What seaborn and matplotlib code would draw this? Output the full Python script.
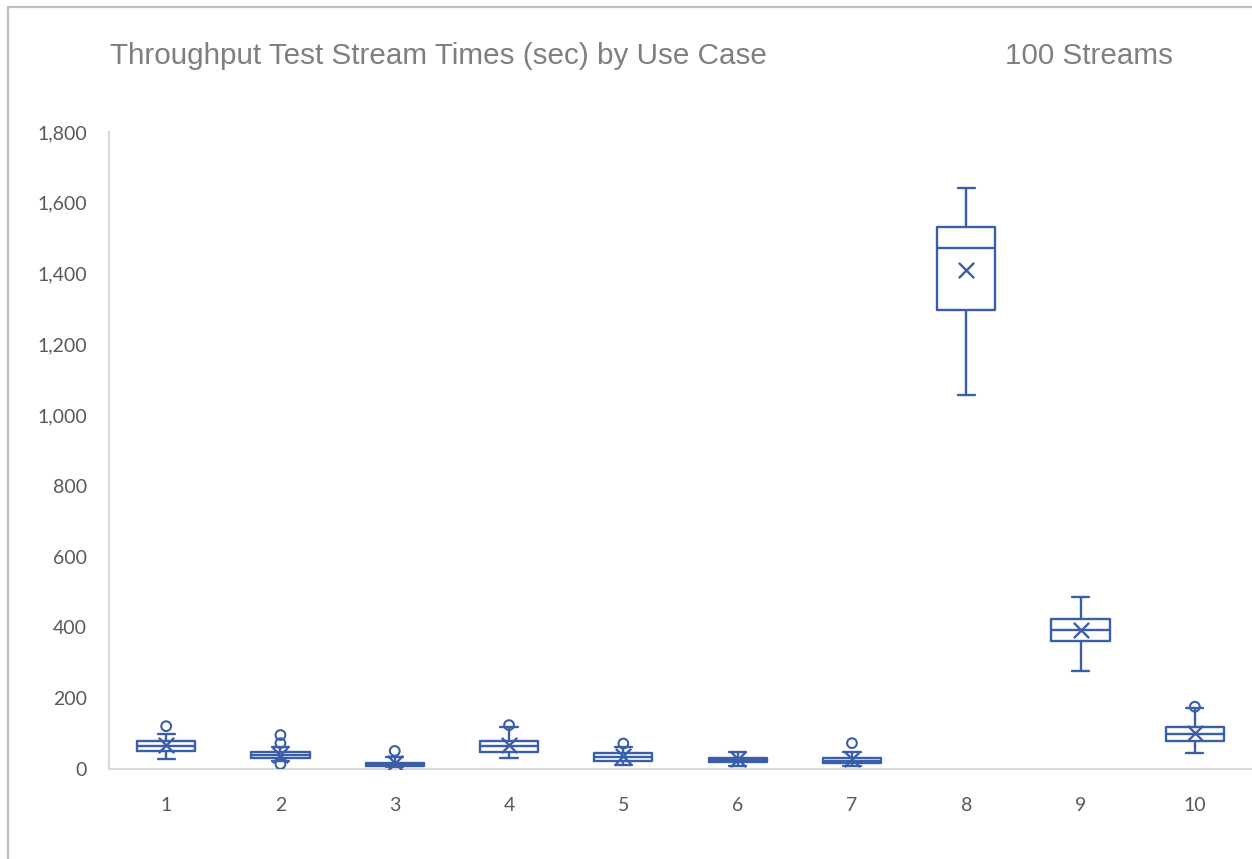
import numpy as np
import pandas as pd
import matplotlib
matplotlib.use("Agg")
import matplotlib.pyplot as plt
from matplotlib.patches import Rectangle
import seaborn as sns

# ---- data ----
categories = ["1", "2", "3", "4", "5", "6", "7", "8", "9", "10"]
whisker_low = [28, 23, 2, 31, 11, 8, 8, 1056, 276, 45]
q1 = [51, 31, 8, 48, 23, 20, 17, 1296, 363, 79]
median = [65, 39, 12, 65, 34, 26, 24, 1473, 392, 99]
q3 = [79, 48, 18, 79, 45, 31, 31, 1532, 423, 118]
whisker_high = [99, 62, 34, 118, 62, 48, 48, 1642, 487, 172]
means = [68, 40, 16, 68, 36, 27, 27, 1411, 392, 101]
outlier_cats = ["1", "2", "2", "2", "3", "4", "5", "7", "10"]
outlier_vals = [121, 96, 73, 14, 51, 124, 72, 73, 176]
y_ticks = [0, 200, 400, 600, 800, 1000, 1200, 1400, 1600, 1800]

title = "Throughput Test Stream Times (sec) by Use Case"
subtitle = "100 Streams"

# five-number summaries -> long table for seaborn
rows = []
for c, a, b, m, d, e in zip(categories, whisker_low, q1, median, q3, whisker_high):
    for v in (a, b, m, d, e):
        rows.append({"case": c, "sec": v})
df = pd.DataFrame(rows)
df_mean = pd.DataFrame({"case": categories, "sec": means})
df_out = pd.DataFrame({"case": outlier_cats, "sec": outlier_vals})

BLUE = "#3B5EA8"
GRID = "#D9D9D9"
TXT = "#595959"

sns.set_theme(style="white")
plt.rcParams["font.family"] = ["Lato", "DejaVu Sans"]

fig = plt.figure(figsize=(12.52, 8.59), dpi=100)
ax = fig.add_axes([109 / 1252, 90 / 859, 1143 / 1252, 637 / 859])

sns.boxplot(data=df, x="case", y="sec", order=categories, ax=ax,
            whis=np.inf, fill=False, color=BLUE, linewidth=1.7,
            width=0.51, showfliers=False, capwidths=0.15)
sns.stripplot(data=df_mean, x="case", y="sec", order=categories, ax=ax,
              jitter=False, marker="x", size=11, color=BLUE, linewidth=1.7)
sns.stripplot(data=df_out, x="case", y="sec", order=categories, ax=ax,
              jitter=False, marker="o", size=7, color=BLUE,
              facecolors="none", edgecolor=BLUE, linewidth=1.5)

ax.set_xlim(-0.5, len(categories) - 0.5)
ax.set_ylim(0, 1800)
ax.set_yticks(y_ticks)
ax.set_yticklabels([f"{v:,}" for v in y_ticks])
ax.set_xlabel("")
ax.set_ylabel("")
ax.tick_params(axis="both", length=0, labelsize=14, labelcolor=TXT)
ax.tick_params(axis="y", pad=16)
ax.tick_params(axis="x", pad=20)
for s in ("top", "right"):
    ax.spines[s].set_visible(False)
for s in ("left", "bottom"):
    ax.spines[s].set_color(GRID)
    ax.spines[s].set_linewidth(1.5)
ax.set_facecolor("white")

fig.text(110 / 1252, 1 - 56 / 859, title, fontsize=21.3, color="#7F7F7F",
         family=["Liberation Sans", "DejaVu Sans"], va="center", ha="left")
fig.text(1005 / 1252, 1 - 56 / 859, subtitle, fontsize=21.3, color="#7F7F7F",
         family=["Liberation Sans", "DejaVu Sans"], va="center", ha="left")

fig.patches.append(Rectangle((7.5 / 1252, -0.2), 1.5, 1 - 6.5 / 859 + 0.2,
                             transform=fig.transFigure, fill=False,
                             edgecolor="#BFBFBF", linewidth=1.6, zorder=0))

fig.savefig("out.png", dpi=100)
